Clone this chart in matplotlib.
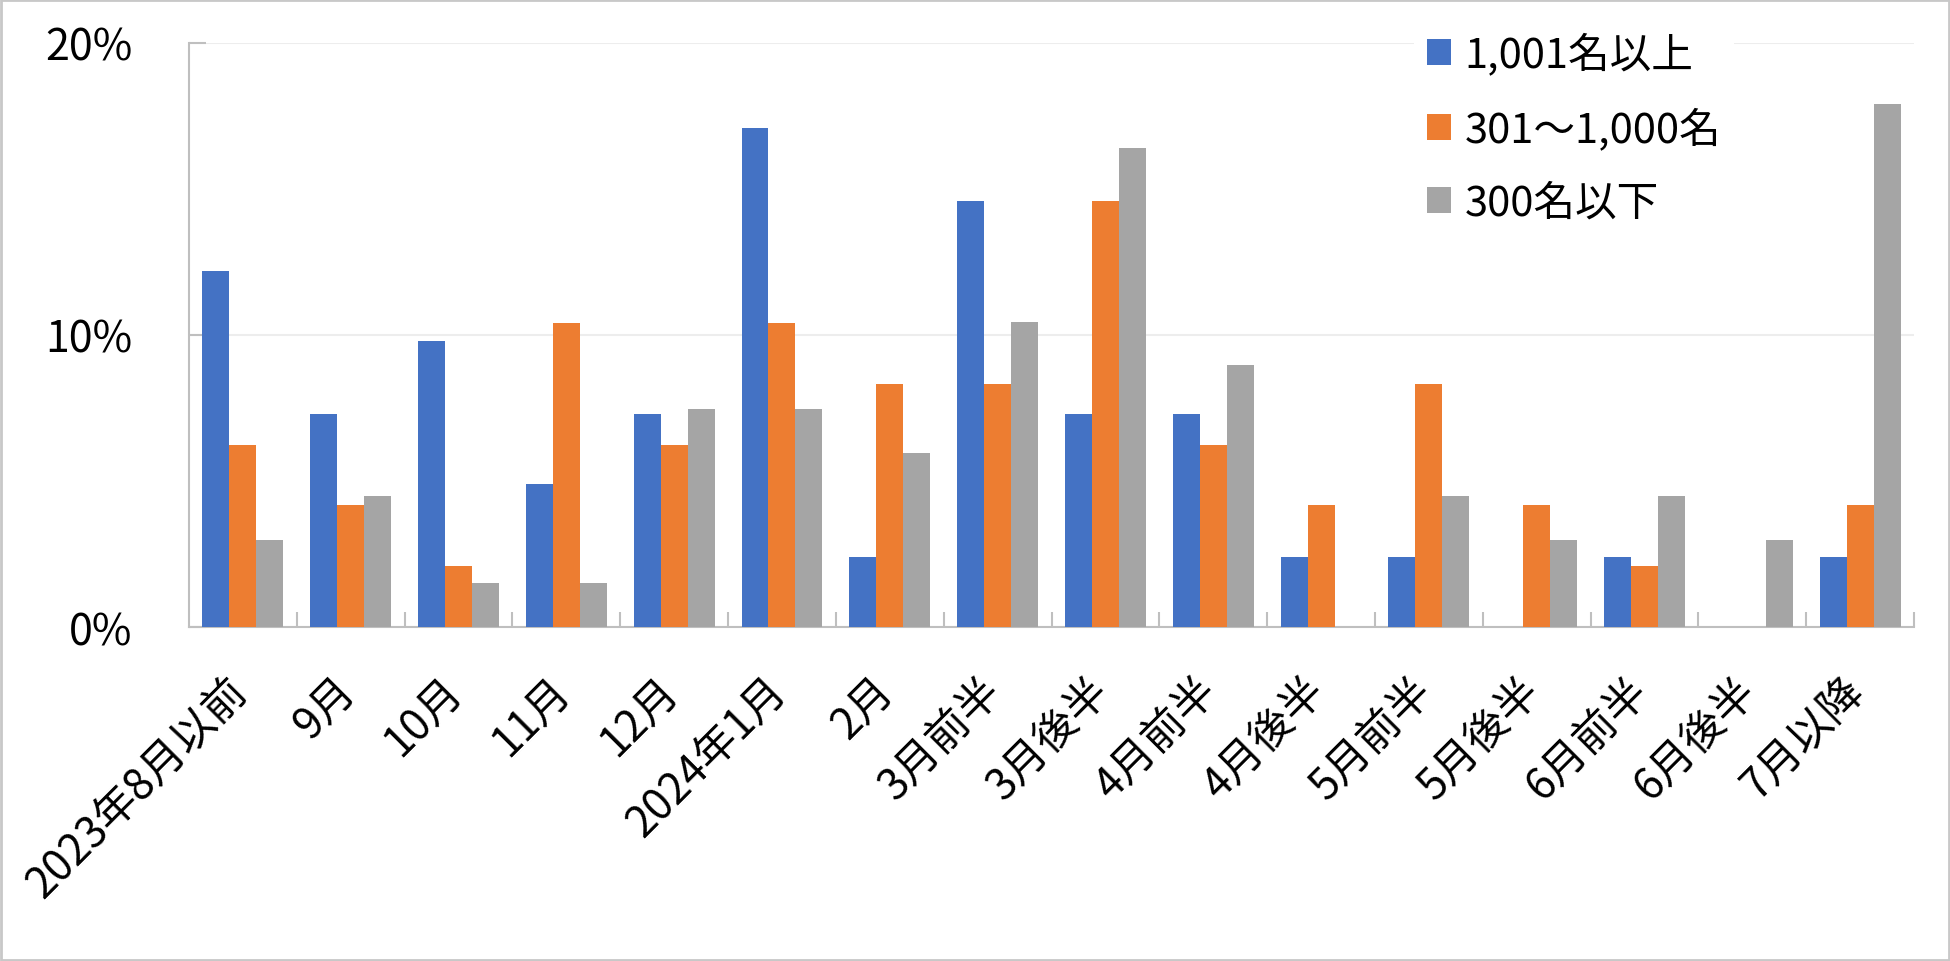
import numpy as np
import matplotlib
matplotlib.use("Agg")
import matplotlib.pyplot as plt
import matplotlib.transforms as mtransforms
from matplotlib.patches import Patch, Rectangle
from matplotlib.ticker import FuncFormatter, FixedLocator

plt.rcParams['font.family'] = ['Noto Sans CJK JP', 'DejaVu Sans']

# Categories and shares (%)
categories = ['2023年8月以前', '9月', '10月', '11月', '12月', '2024年1月', '2月',
              '3月前半', '3月後半', '4月前半', '4月後半', '5月前半', '5月後半',
              '6月前半', '6月後半', '7月以降']
series_names = ['1,001名以上', '301～1,000名', '300名以下']
large = [12.2, 7.3, 9.8, 4.9, 7.3, 17.1, 2.4, 14.6, 7.3, 7.3, 2.4, 2.4, 0.0, 2.4, 0.0, 2.4]
medium = [6.25, 4.17, 2.08, 10.42, 6.25, 10.42, 8.33, 8.33, 14.58, 6.25, 4.17, 8.33, 4.17, 2.08, 0.0, 4.17]
small = [2.99, 4.48, 1.49, 1.49, 7.46, 7.46, 5.97, 10.45, 16.42, 8.96, 0.0, 4.48, 2.99, 4.48, 2.99, 17.91]
colors = ['#4472C4', '#ED7D31', '#A5A5A5']

axis_col = '#BFBFBF'
grid_col = '#EDEDED'

fig = plt.figure(figsize=(19.5, 9.62), dpi=100)
ax = fig.add_axes([189 / 1950, 1 - 628 / 962, (1914 - 189) / 1950, (628 - 44) / 962])

# Bars
x = np.arange(len(categories))
w = 0.25
for i, vals in enumerate([large, medium, small]):
    ax.bar(x + (i - 1) * w, vals, width=w, color=colors[i], zorder=3)

ax.set_xlim(-0.5, len(categories) - 0.5)
ax.set_ylim(0, 20)

# Y axis
ax.set_yticks([0, 10, 20])
ax.yaxis.set_major_formatter(FuncFormatter(lambda v, p: '%d%%' % v))
ax.tick_params(axis='y', direction='in', length=12, width=1.5, color=axis_col,
               pad=41, labelsize=31, labelcolor='black')
ax.grid(axis='y', color=grid_col, linewidth=1.5, zorder=0)

# X axis: labels at category centres, tick marks between categories
ax.set_xticks(x)
ax.set_xticklabels(categories, rotation=45, ha='right', va='baseline',
                   rotation_mode='anchor', fontsize=31)
ax.tick_params(axis='x', which='major', length=0, pad=47)
ax.xaxis.set_minor_locator(FixedLocator(np.arange(0.5, len(categories), 1.0)))
ax.tick_params(axis='x', which='minor', direction='in', length=11, width=1.5, color=axis_col)

shift = mtransforms.ScaledTranslation(6 / 100, 0, fig.dpi_scale_trans)
for lab in ax.get_xticklabels():
    lab.set_transform(lab.get_transform() + shift)

for side in ['top', 'right']:
    ax.spines[side].set_visible(False)
for side in ['left', 'bottom']:
    ax.spines[side].set_color(axis_col)
    ax.spines[side].set_linewidth(1.5)

# Legend
handles = [Patch(facecolor=c, edgecolor='none') for c in colors]
leg = ax.legend(handles, series_names, loc='upper left',
                bbox_to_anchor=(1414 / 1950, 1 - 21 / 962), bbox_transform=fig.transFigure,
                fontsize=30, frameon=True, framealpha=1, edgecolor='white', fancybox=False,
                handlelength=0.58, handleheight=0.58, handletextpad=0.34,
                labelspacing=0.77, borderpad=0.3, borderaxespad=0)
leg.get_frame().set_linewidth(0)
leg.set_zorder(5)

# Outer chart border
fig.patches.append(Rectangle((0.0005, 0.001), 0.999, 0.998, transform=fig.transFigure,
                             fill=False, edgecolor='#C8C8C8', linewidth=2))

fig.savefig('out.png', dpi=100)
